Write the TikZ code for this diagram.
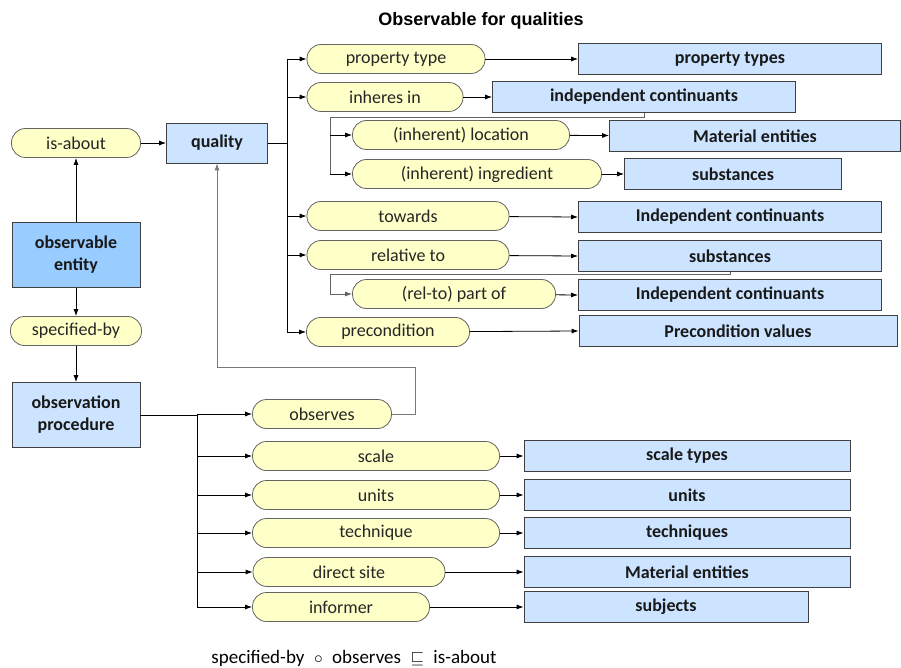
\documentclass[tikz,border=0pt]{standalone}
\usepackage{fontspec}
\setmainfont{Carlito}
\newfontfamily\titlefont{Liberation Sans}
\usetikzlibrary{arrows.meta}

\definecolor{pillyellow}{RGB}{255,255,200}
\definecolor{pillgray}{RGB}{100,100,100}
\definecolor{boxblue}{RGB}{204,228,255}
\definecolor{entblue}{RGB}{153,204,255}
\definecolor{boxgray}{RGB}{64,64,64}
\definecolor{loopgray}{RGB}{120,120,120}

\tikzset{
  pill/.style={draw=pillgray, line width=0.8pt, fill=pillyellow, rounded corners=14pt,
    minimum height=29pt, inner sep=0pt, text=black!85, font=\fontsize{18}{22}\selectfont},
  box/.style={draw=boxgray, line width=0.8pt, fill=boxblue, minimum height=31pt,
    inner sep=0pt, text=black!90, font=\fontsize{18}{22}\selectfont\bfseries},
  conn/.style={-{Latex[length=7pt,width=5pt]}, line width=0.8pt},
  link/.style={line width=0.8pt},
}

\begin{document}
\begin{tikzpicture}[x=1pt,y=-1pt]
  \useasboundingbox (0,0) rectangle (901,668);

  \node[font=\titlefont\fontsize{18}{22}\selectfont\bfseries] (title) at (481,21) {Observable for qualities};

  % left column
  \node[pill, minimum width=129] (isabout) at (76,143) {is-about};
  \node[box, minimum width=101, minimum height=40] (quality) at (217,143) {quality};
  \node[box, fill=entblue, minimum width=128, minimum height=65, align=center] (obsent) at (76,255) {observable\\entity};
  \node[pill, minimum width=131] (specby) at (76,331) {specified-by};
  \node[box, minimum width=128, minimum height=65, align=center] (proc) at (76,415) {observation\\procedure};

  \draw[conn] (obsent) -- (isabout);
  \draw[conn] (obsent) -- (specby);
  \draw[conn] (specby) -- (proc);
  \draw[conn] (isabout) -- (quality);

  % quality relations
  \node[pill, minimum width=178] (ptype) at (396,59) {property type};
  \node[pill, minimum width=156] (inh) at (385,97) {inheres in};
  \node[pill, minimum width=217] (loc) at (461,135) {(inherent) location};
  \node[pill, minimum width=249] (ingr) at (477,174) {(inherent) ingredient};
  \node[pill, minimum width=202] (tow) at (408,216) {towards};
  \node[pill, minimum width=202] (rel) at (408,255) {relative to};
  \node[pill, minimum width=203] (partof) at (454,294) {(rel-to) part of};
  \node[pill, minimum width=163] (pre) at (388,332) {precondition};

  \node[box, minimum width=303] (ptypes) at (730,59) {property types};
  \node[box, minimum width=303] (indep) at (644,97) {independent continuants};
  \node[box, minimum width=291] (mat) at (755,136) {Material entities};
  \node[box, minimum width=217] (subst) at (733,174) {substances};
  \node[box, minimum width=303] (indep2) at (730,217) {Independent continuants};
  \node[box, minimum width=303] (subst2) at (730,256) {substances};
  \node[box, minimum width=303] (indep3) at (730,295) {Independent continuants};
  \node[box, minimum width=318] (precv) at (738,331) {Precondition values};

  \coordinate (qtrunk) at (287,143);
  \draw[link] (quality.east) -- (qtrunk);
  \draw[link] (qtrunk |- ptype.west) -- (qtrunk |- pre.west);
  \foreach \n in {ptype,inh,tow,rel,pre}
    \draw[conn] (qtrunk |- \n.west) -- (\n.west);

  \coordinate (itrunk) at (330,117);
  \draw[link, pillgray] (indep.south) |- (itrunk) -- (itrunk |- ingr.west);
  \foreach \n in {loc,ingr}
    \draw[conn] (itrunk |- \n.west) -- (\n.west);

  \coordinate (rtrunk) at (330,274);
  \draw[conn, pillgray] (subst2.south) |- (rtrunk) |- (partof.west);

  \draw[conn] (ptype) -- (ptypes);
  \draw[conn] (inh) -- (indep);
  \draw[conn] (loc) -- (mat);
  \draw[conn] (ingr) -- (subst);
  \draw[conn] (tow) -- (indep2.west);
  \draw[conn] (rel) -- (subst2.west);
  \draw[conn] (partof) -- (indep3.west);
  \draw[conn] (pre) -- (precv.west);

  % procedure relations
  \node[pill, minimum width=139] (obs) at (322,414) {observes};
  \node[pill, minimum width=247] (scale) at (376,456) {scale};
  \node[pill, minimum width=247] (units) at (376,495) {units};
  \node[pill, minimum width=247] (tech) at (376,533) {technique};
  \node[pill, minimum width=192] (site) at (349,572) {direct site};
  \node[pill, minimum width=177] (inf) at (341,607) {informer};

  \node[box, minimum width=326] (scalet) at (687,456) {scale types};
  \node[box, minimum width=326] (unitsb) at (687,495) {units};
  \node[box, minimum width=326] (techs) at (687,533) {techniques};
  \node[box, minimum width=326] (mat2) at (687,572) {Material entities};
  \node[box, minimum width=284] (subj) at (666,607) {subjects};

  \coordinate (ptrunk) at (197,415);
  \draw[link] (proc.east) -- (ptrunk);
  \draw[link] (ptrunk |- obs.west) -- (ptrunk |- inf.west);
  \foreach \n in {obs,scale,units,tech,site,inf}
    \draw[conn] (ptrunk |- \n.west) -- (\n.west);

  \draw[conn] (scale) -- (scalet);
  \draw[conn] (units) -- (unitsb);
  \draw[conn] (tech) -- (techs);
  \draw[conn] (site) -- (mat2);
  \draw[conn] (inf) -- (subj);

  \coordinate (loop) at (415,367);
  \draw[conn, loopgray] (obs.east) -| (loop) -| (quality.south);

  \node[font=\fontsize{19}{22}\selectfont] (axiom) at (354,658)
    {specified-by\enspace$\circ$\enspace observes\enspace$\sqsubseteq$\enspace is-about};
\end{tikzpicture}
\end{document}
